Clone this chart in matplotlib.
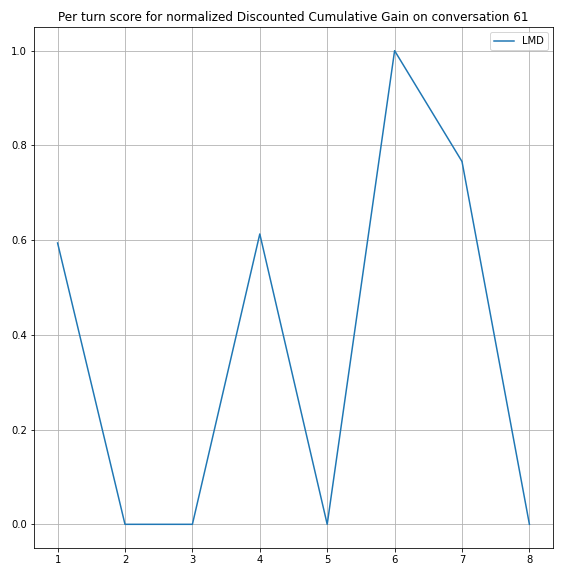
import matplotlib
matplotlib.use("Agg")
import matplotlib.pyplot as plt

turns = [1, 2, 3, 4, 5, 6, 7, 8]
lmd_scores = [0.594, 0.0, 0.0, 0.613, 0.0, 1.0, 0.766, 0.0]

fig, ax = plt.subplots(figsize=(8, 8), dpi=72)
ax.plot(turns, lmd_scores, label="LMD")
ax.set_title("Per turn score for normalized Discounted Cumulative Gain on conversation 61")
ax.grid(True)
ax.legend(loc="upper right")
fig.subplots_adjust(left=34/576, right=553/576, top=1-27/576, bottom=1-548/576)
fig.savefig("out.png", dpi=72)
